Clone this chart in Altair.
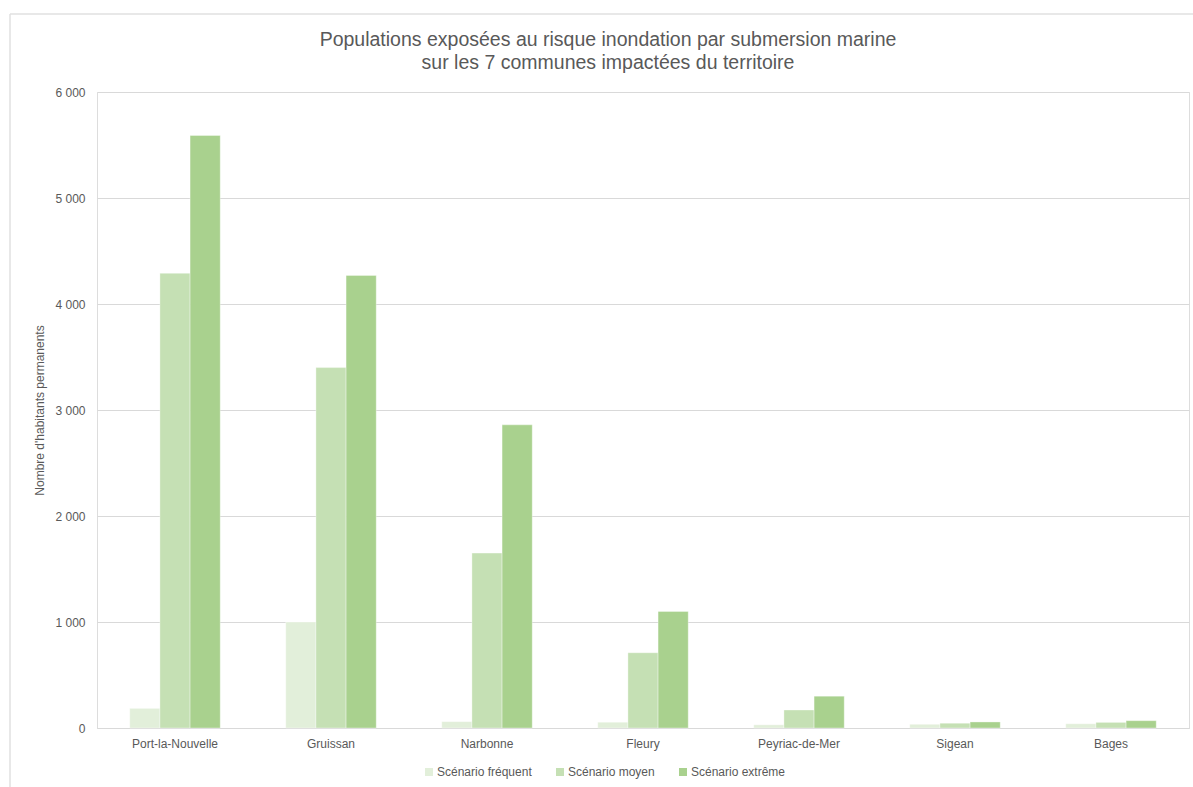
import altair as alt
import pandas as pd

# Communes and flood scenarios
communes = ["Port-la-Nouvelle", "Gruissan", "Narbonne", "Fleury",
            "Peyriac-de-Mer", "Sigean", "Bages"]
scenarios = ["Scénario fréquent", "Scénario moyen", "Scénario extrême"]

# Permanent residents exposed, per scenario
frequent = [185, 1000, 60, 55, 30, 35, 40]
moyen = [4290, 3400, 1650, 710, 170, 45, 53]
extreme = [5590, 4270, 2860, 1100, 300, 57, 69]

colors = ["#e2efda", "#c5e0b4", "#a9d18e"]

rows = []
for serie_name, serie in zip(scenarios, [frequent, moyen, extreme]):
    for commune, v in zip(communes, serie):
        rows.append({"commune": commune, "scenario": serie_name, "habitants": v})
df = pd.DataFrame(rows)

FONT = "Liberation Sans"
GREY = "#595959"
LINE = "#d9d9d9"

bars = alt.Chart(df).mark_bar(stroke="#ffffff", strokeWidth=0.6, strokeOpacity=0.6).encode(
    x=alt.X("commune:N", sort=communes, title=None,
            scale=alt.Scale(paddingInner=0.42, paddingOuter=0.21),
            axis=alt.Axis(labelAngle=0, labelFontSize=12, labelColor=GREY,
                          labelFont=FONT, labelPadding=10, ticks=False,
                          domainColor=LINE, domainWidth=1, grid=False)),
    xOffset=alt.XOffset("scenario:N", sort=scenarios,
                        scale=alt.Scale(paddingInner=0, paddingOuter=0)),
    y=alt.Y("habitants:Q", title="Nombre d'habitants permanents",
            scale=alt.Scale(domain=[0, 6000], nice=False),
            axis=alt.Axis(values=[0, 1000, 2000, 3000, 4000, 5000, 6000],
                          labelExpr="replace(format(datum.value, ','), ',', ' ')",
                          labelFontSize=12, labelColor=GREY, labelFont=FONT,
                          labelPadding=12, ticks=False, domain=False,
                          gridColor=LINE, gridWidth=1,
                          titleFontSize=12, titleFontWeight="normal",
                          titleColor=GREY, titleFont=FONT, titlePadding=8)),
    color=alt.Color("scenario:N", sort=scenarios,
                    scale=alt.Scale(domain=scenarios, range=colors),
                    legend=alt.Legend(title=None, orient="none", direction="horizontal",
                                      legendX=326, legendY=674, padding=0,
                                      symbolType="square", symbolSize=64,
                                      symbolStrokeWidth=0, labelOffset=2,
                                      columnPadding=22, labelFontSize=12,
                                      labelColor=GREY, labelFont=FONT)),
)

# Light frame around the chart
frame_df = pd.DataFrame({"k": [0]})
frame_top = alt.Chart(frame_df).mark_rule(color="#e0e0e0", strokeWidth=1.5).encode(
    x=alt.value(-87), x2=alt.value(1110), y=alt.value(-78))
frame_left = alt.Chart(frame_df).mark_rule(color="#e0e0e0", strokeWidth=1.5).encode(
    x=alt.value(-87), y=alt.value(-78), y2=alt.value(700))

chart = alt.layer(frame_top, frame_left, bars).properties(
    width=1092,
    height=636,
    title=alt.TitleParams(
        ["Populations exposées au risque inondation par submersion marine",
         "sur les 7 communes impactées du territoire"],
        fontSize=19.5, font=FONT, fontWeight="normal", color=GREY,
        anchor="middle", dx=-35, offset=-60, lineHeight=23),
    autosize=alt.AutoSizeParams(type="none"),
    padding={"left": 97, "top": 92, "right": 4, "bottom": 59},
).configure_view(stroke=None).configure(background="#ffffff")

chart.save("out.html", embed_options={"renderer": "svg", "actions": False})
